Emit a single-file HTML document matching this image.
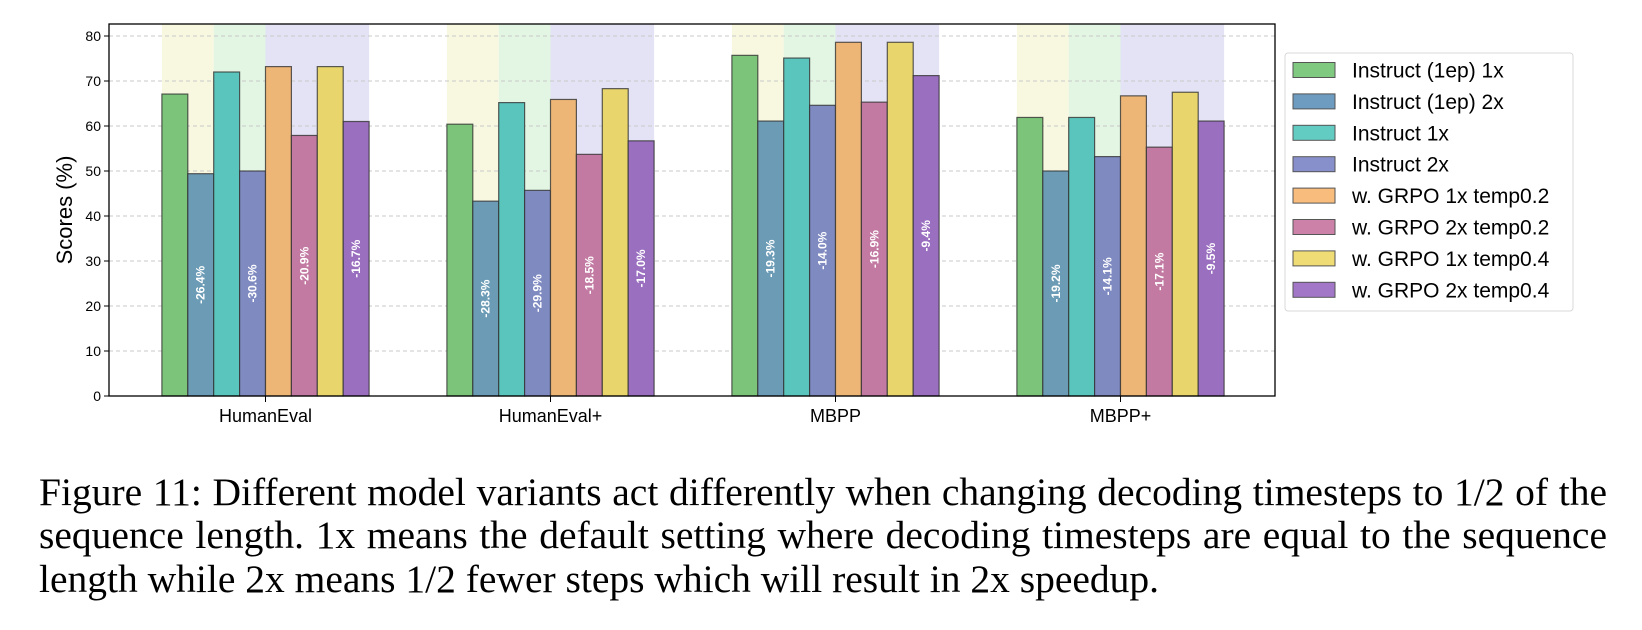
<!DOCTYPE html>
<html><head><meta charset="utf-8"><style>
body{margin:0;background:#fff;width:1642px;height:630px;overflow:hidden;position:relative}
svg{position:absolute;left:0;top:0}
.cap{position:absolute;left:39px;width:1568px;font-family:"Liberation Serif",serif;font-size:39.5px;color:#000;text-align:justify;text-align-last:justify;white-space:nowrap;line-height:43px}
</style></head><body>
<svg id="chart" width="1642" height="440" xmlns="http://www.w3.org/2000/svg" font-family="'Liberation Sans', sans-serif"></svg>
<div class="cap" style="top:471px">Figure 11: Different model variants act differently when changing decoding timesteps to 1/2 of the</div>
<div class="cap" style="top:514px">sequence length. 1x means the default setting where decoding timesteps are equal to the sequence</div>
<div class="cap" style="top:558px;text-align-last:left">length while 2x means 1/2 fewer steps which will result in 2x speedup.</div>
<script>
const categories = ["HumanEval","HumanEval+","MBPP","MBPP+"];
const seriesNames = ["Instruct (1ep) 1x","Instruct (1ep) 2x","Instruct 1x","Instruct 2x","w. GRPO 1x temp0.2","w. GRPO 2x temp0.2","w. GRPO 1x temp0.4","w. GRPO 2x temp0.4"];
const values = [
  [67.1,49.4,72.0,50.0,73.2,57.9,73.2,61.0],
  [60.4,43.3,65.2,45.7,65.9,53.7,68.3,56.7],
  [75.7,61.1,75.1,64.6,78.6,65.3,78.6,71.2],
  [61.9,50.0,61.9,53.2,66.7,55.3,67.5,61.1]
];
const dropLabels = [
  ["-26.4%","-30.6%","-20.9%","-16.7%"],
  ["-28.3%","-29.9%","-18.5%","-17.0%"],
  ["-19.3%","-14.0%","-16.9%","-9.4%"],
  ["-19.2%","-14.1%","-17.1%","-9.5%"]
];
const yTicks = [0,10,20,30,40,50,60,70,80];
const colors = ["#7bc47a","#6b9bb5","#5ac5bc","#7f8ac1","#eeb676","#c27aa2","#e8d66c","#9a6fc0"];
const legendColors = ["#80c980","#6d9cc0","#62cbc2","#8890cc","#f8bd7c","#cc82a8","#f0dc74","#a277c8"];
const NS="http://www.w3.org/2000/svg";
const svg=document.getElementById('chart');
const L=109,R=1275,T=24,B=396;
const y=v=>B-v*4.5;
const barW=25.9;
const gc=i=>265.5+i*285;
const bx=(i,j)=>gc(i)-4*barW+j*barW;
function mk(tag,attrs,parent){const e=document.createElementNS(NS,tag);for(const k in attrs)e.setAttribute(k,attrs[k]);(parent||svg).appendChild(e);return e;}
const bandCols=["#f8f8e0","#e3f6e3","#e3e3f5"];
categories.forEach((c,i)=>{
  [[0,2],[2,4],[4,8]].forEach((r,k)=>{
    const e=mk('rect',{x:bx(i,r[0]),y:T,width:(r[1]-r[0])*barW,height:B-T,fill:bandCols[k]});
    
    
  });
});
yTicks.forEach(t=>{
  const g=mk('line',{x1:L,x2:R,y1:y(t),y2:y(t),stroke:'#c8c8c8','stroke-dasharray':'4,3','stroke-width':1});
  
  
  mk('line',{x1:L-5,x2:L,y1:y(t),y2:y(t),stroke:'#000'});
  const tx=mk('text',{x:L-8,y:y(t)+5,'text-anchor':'end','font-size':14,fill:'#000'});
  tx.textContent=t;
  
  
});
categories.forEach((c,i)=>{
  values[i].forEach((v,j)=>{
    const r=mk('rect',{x:bx(i,j),y:y(v),width:barW,height:B-y(v),fill:colors[j],stroke:'#333','stroke-width':1.2,'stroke-opacity':0.8});
    
    
    if(j%2===1){
      const cx=bx(i,j)+barW/2, cy=y(v/2);
      const t=mk('text',{x:cx,y:cy+4,'text-anchor':'middle','font-size':12,'font-weight':'bold',fill:'#fff',transform:`rotate(-90 ${cx} ${cy})`});
      t.textContent=dropLabels[i][(j-1)/2];
      
      
    }
  });
  mk('line',{x1:gc(i),x2:gc(i),y1:B,y2:B+6,stroke:'#000'});
  const xl=mk('text',{x:gc(i),y:422,'text-anchor':'middle','font-size':18,fill:'#000'});
  xl.textContent=c;
  
  
});
const fr=mk('rect',{x:L,y:T,width:R-L,height:B-T,fill:'none',stroke:'#000','stroke-width':1.3});


const yt=mk('text',{x:72,y:210,'text-anchor':'middle','font-size':22,fill:'#000',transform:'rotate(-90 72 210)'});
yt.textContent='Scores (%)';


const lg=mk('rect',{x:1285,y:53,width:288,height:258,rx:3,fill:'#fff',stroke:'#d8d8d8'});


seriesNames.forEach((n,j)=>{
  const cy=70+j*31.4;
  const p=mk('rect',{x:1293,y:cy-7.5,width:42,height:15,fill:legendColors[j],stroke:'#555','stroke-width':1});
  
  
  const t=mk('text',{x:1352,y:cy+7.5,'font-size':21,fill:'#000'});
  t.textContent=n;
  
  
});
</script>
</body></html>
